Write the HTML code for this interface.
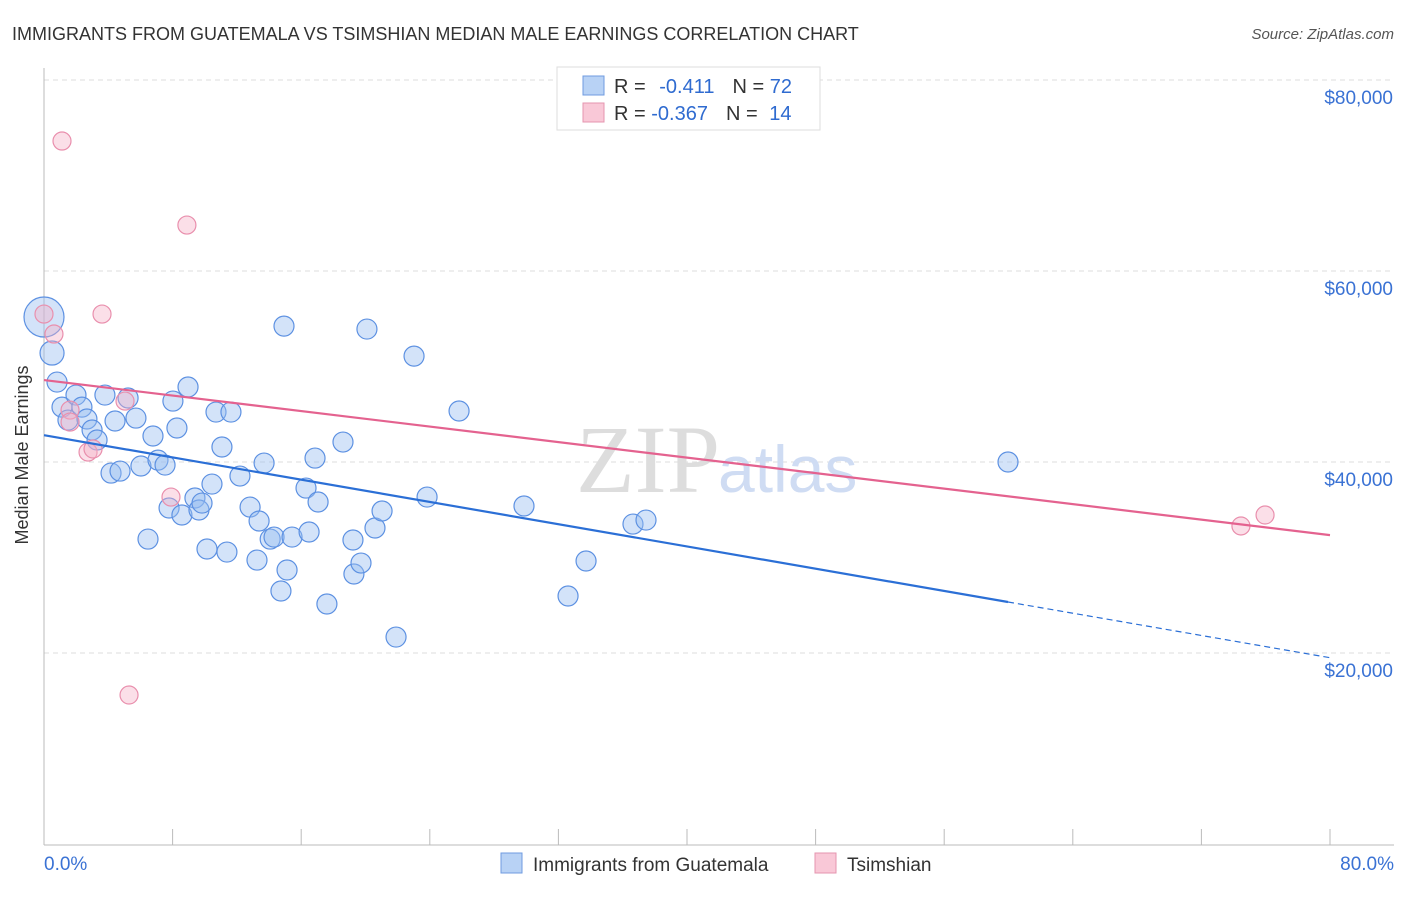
<!DOCTYPE html>
<html><head><meta charset="utf-8"><style>
body{margin:0;background:#fff;font-family:"Liberation Sans",sans-serif}
</style></head><body>
<svg id="c" width="1406" height="892" xmlns="http://www.w3.org/2000/svg">
<text x="12" y="40" font-size="18" fill="#333">IMMIGRANTS FROM GUATEMALA VS TSIMSHIAN MEDIAN MALE EARNINGS CORRELATION CHART</text>
<text x="1394" y="39" font-size="15" fill="#555" font-style="italic" text-anchor="end">Source: ZipAtlas.com</text>
<text x="28" y="455" font-size="18" fill="#333" text-anchor="middle" transform="rotate(-90 28 455)">Median Male Earnings</text>
<g id="grid"></g>
<text x="720" y="492" font-size="96" fill="#ddd" text-anchor="end" font-family="Liberation Serif">ZIP</text>
<text x="718" y="492" font-size="66" fill="#cfdcf3">atlas</text>
<g id="marks"></g>
<g>
<rect x="557" y="67" width="263" height="63" fill="#fff" stroke="#ddd"/>
<rect x="583" y="76" width="21" height="19" fill="#b8d2f5" stroke="#6f9be0"/>
<text x="614" y="93" font-size="20" fill="#333">R = <tspan fill="#2f6bd0" dx="8">-0.411</tspan><tspan dx="18" fill="#333">N = </tspan><tspan fill="#2f6bd0">72</tspan></text>
<rect x="583" y="103" width="21" height="19" fill="#f9c8d7" stroke="#e595af"/>
<text x="614" y="120" font-size="20" fill="#333">R = <tspan fill="#2f6bd0">-0.367</tspan><tspan dx="18" fill="#333">N = </tspan><tspan fill="#2f6bd0" dx="6">14</tspan></text>
</g>
<g>
<rect x="501" y="853" width="21" height="20" fill="#b8d2f5" stroke="#6f9be0"/>
<text x="533" y="871" font-size="19" fill="#333">Immigrants from Guatemala</text>
<rect x="815" y="853" width="21" height="20" fill="#f9c8d7" stroke="#e595af"/>
<text x="847" y="871" font-size="19" fill="#333">Tsimshian</text>
</g>
</svg>
<script>
const yTicks=[20000,40000,60000,80000];
const yTickLabels=["$20,000","$40,000","$60,000","$80,000"];
const xTicks=[0,8,16,24,32,40,48,56,64,72,80];
const xLabels=["0.0%","80.0%"];
const blueX=[0.0,0.5,0.81,1.12,1.49,1.99,2.36,2.67,2.99,3.3,3.79,4.17,4.42,4.73,5.23,5.72,6.03,6.47,6.78,7.09,7.53,7.78,8.02,8.27,8.58,8.96,9.39,9.64,9.83,10.14,10.45,10.7,11.07,11.38,11.63,12.19,12.82,13.25,13.38,13.69,14.07,14.31,14.74,14.93,15.12,15.43,16.3,16.49,16.86,17.05,17.6,18.6,19.22,19.28,19.72,20.09,20.59,21.03,21.9,23.02,23.83,25.82,29.86,32.6,33.72,36.64,37.45,59.97];
const blueY=[55180,51410,48370,45750,44390,47010,45750,44500,43350,42300,47010,38840,44290,39050,46700,44600,39580,31930,42720,40200,39680,35180,46380,43560,34450,47850,36230,34970,35700,30890,37690,45230,41570,30570,45230,38530,35280,29730,33820,39890,31930,32140,26490,54230,28690,32140,37270,32670,40410,35810,25130,42090,31830,28270,29420,53920,33090,34870,21670,51090,36330,45340,35390,25970,29630,33500,33920,40000];
const pinkX=[1.12,0,0.62,1.62,1.62,2.74,3.05,3.61,5.04,7.9,8.89,5.29,74.46,75.96];
const pinkY=[73610,55490,53400,45440,44180,41040,41360,55490,46380,36330,64810,15600,33300,34450];
const blueTrend=[42810,-291.3]; // intercept, slope
const pinkTrend=[48580,-203];
const blueSolidEnd=59.97;
const X=v=>44+v/80*1286, Y=v=>844-v/20000*191;
const NS="http://www.w3.org/2000/svg";
function mk(p,t,a){const e=document.createElementNS(NS,t);for(const k in a)e.setAttribute(k,a[k]);p.appendChild(e);return e;}
const g=document.getElementById('grid'),m=document.getElementById('marks');
yTicks.forEach((v,i)=>{
 const l=mk(g,'line',{x1:44,x2:1394,y1:Y(v),y2:Y(v),stroke:'#ddd','stroke-dasharray':'5,4'});
 
 
 const t=mk(g,'text',{x:1393,y:Y(v)+24,'font-size':19,fill:'#3a72d4','text-anchor':'end'});
 t.textContent=yTickLabels[i];
 
 
});
const ax=mk(g,'line',{x1:44,x2:44,y1:68,y2:845,stroke:'#bbb'});


const bx=mk(g,'line',{x1:44,x2:1394,y1:845,y2:845,stroke:'#bbb'});


xTicks.forEach(v=>{const l=mk(g,'line',{x1:X(v),x2:X(v),y1:829,y2:845,stroke:'#bbb'});
 
 });
[[0,'start',44],[1,'end',1394]].forEach(([i,a,x])=>{const t=mk(g,'text',{x:x,y:870,'font-size':19,fill:'#3a72d4','text-anchor':a});t.textContent=xLabels[i];
 
 });
function pt(x,y,r,fill,st,name){const c=mk(m,'circle',{cx:X(x),cy:Y(y),r:r,fill:fill,stroke:st,'stroke-width':1.2});
 
 }
blueX.forEach((x,i)=>pt(x,blueY[i],i==0?20:(i==1?12:10),'rgba(150,188,240,0.42)','#5d91e2','guatemala-point'));
pinkX.forEach((x,i)=>pt(x,pinkY[i],9,'rgba(246,175,198,0.4)','#e98fad','tsimshian-point'));
const bl=mk(m,'line',{x1:X(0),y1:Y(blueTrend[0]),x2:X(blueSolidEnd),y2:Y(blueTrend[0]+blueTrend[1]*blueSolidEnd),stroke:'#2b6fd6','stroke-width':2.2});


const bd=mk(m,'line',{x1:X(blueSolidEnd),y1:Y(blueTrend[0]+blueTrend[1]*blueSolidEnd),x2:X(80),y2:Y(blueTrend[0]+blueTrend[1]*80),stroke:'#2b6fd6','stroke-width':1.2,'stroke-dasharray':'6,4'});


const pl=mk(m,'line',{x1:X(0),y1:Y(pinkTrend[0]),x2:X(80),y2:Y(pinkTrend[0]+pinkTrend[1]*80),stroke:'#e4628f','stroke-width':2.2});


</script>
</body></html>
